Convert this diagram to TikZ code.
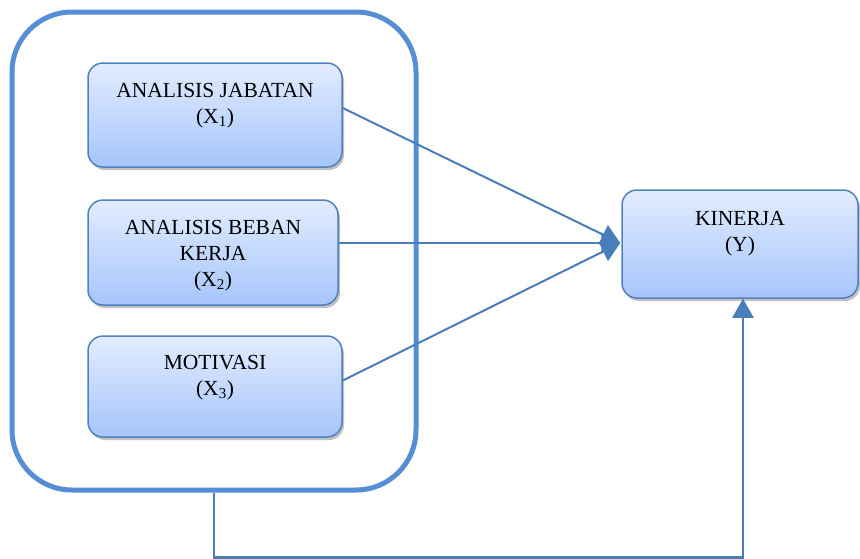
\documentclass[tikz,border=0pt]{standalone}
\usepackage{fontspec}
\setmainfont{Liberation Serif}
\usetikzlibrary{arrows.meta,shadows,calc,positioning}
\definecolor{outerblue}{HTML}{558ED5}
\definecolor{boxborder}{HTML}{4F81BD}
\definecolor{arrowblue}{HTML}{4A7EBB}
\definecolor{toplight}{HTML}{E2ECFF}
\definecolor{botdark}{HTML}{A6C5FB}
\tikzset{
  varbox/.style={draw=boxborder, line width=1.5pt, rounded corners=15pt,
    top color=toplight, bottom color=botdark, inner sep=0pt,
    drop shadow={shadow xshift=2pt, shadow yshift=-3pt, fill=black!35, opacity=0.7}},
  boxtext/.style={anchor=north, align=center, inner sep=0pt,
    font=\fontsize{21.5}{26}\selectfont},
  conn/.style={draw=arrowblue, line width=2pt, -{Triangle[length=19pt,width=21pt]}},
}
\begin{document}
\begin{tikzpicture}[x=1pt,y=-1pt]
\useasboundingbox (0,0) rectangle (860,558);
% outer frame
\node[draw=outerblue, line width=5pt, rounded corners=60pt, minimum width=404pt, minimum height=478pt, inner sep=0pt] (outer) at (214,251) {};
% boxes
\node[varbox, minimum width=254pt, minimum height=104pt] (b1) at (215,115) {};
\node[varbox, minimum width=250pt, minimum height=105pt] (b2) at (213,252.5) {};
\node[varbox, minimum width=254pt, minimum height=101pt] (b3) at (215,386.5) {};
\node[varbox, minimum width=236pt, minimum height=108pt] (kin) at (740,244) {};
% texts
\node[boxtext] (t1) at ($(b1.north)+(0,21)$) {ANALISIS JABATAN\\(X\textsubscript{1})};
\node[boxtext] (t2) at ($(b2.north)+(0,21)$) {ANALISIS BEBAN\\KERJA\\(X\textsubscript{2})};
\node[boxtext] (t3) at ($(b3.north)+(0,20)$) {MOTIVASI\\(X\textsubscript{3})};
\node[boxtext] (tk) at ($(kin.north)+(0,22)$) {KINERJA\\(Y)};
% connectors
\coordinate (hub) at ($(kin.west)+(-1,-1)$);
\draw[conn] ($(b1.east)+(0,-7)$) -- (hub);
\draw[conn] ($(b2.east)+(0,-9.5)$) -- (hub);
\draw[conn] ($(b3.east)+(0,-6)$) -- (hub);
\draw[conn, line width=2.5pt] (outer.south) -- ++(0,65) -| ($(kin.south)+(3,0)$);
\end{tikzpicture}
\end{document}
